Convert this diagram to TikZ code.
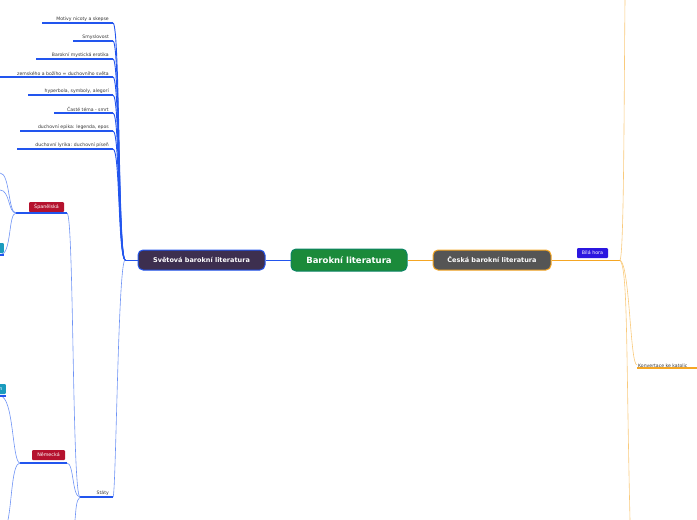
\documentclass[tikz,border=0pt]{standalone}
\usepackage{fontspec}
\setmainfont{DejaVu Sans}
\definecolor{rootgreen}{HTML}{1B8A3A}
\definecolor{worldfill}{HTML}{3D2F4F}
\definecolor{worldline}{HTML}{2255EE}
\definecolor{czfill}{HTML}{555555}
\definecolor{czline}{HTML}{F5A623}
\definecolor{stateline}{HTML}{6E93F5}
\definecolor{statered}{HTML}{B5122E}
\definecolor{tealbox}{HTML}{1A9BBE}
\definecolor{hillblue}{HTML}{2B17E0}
\tikzset{
    x={1pt},
    y={-1pt},
    topic/.style={
        draw={#1}, rounded corners={5pt},
        line width={1pt},
        text=white, font={\bfseries\fontsize{6.5}{7}\selectfont},
        minimum height={20}, inner xsep=6pt,
    },
    leaf/.style={
        font={\fontsize{4.6}{5}\selectfont}, text=black!80,
        anchor=south east, inner sep=1pt,
    },
    tag/.style={
        fill={#1}, rounded corners={1pt},
        text=white, font={\fontsize{4.8}{5}\selectfont},
        minimum height={10}, inner xsep=3pt, inner ysep=0pt,
    },
    underline/.style={draw={#1}, line width={1.2pt}},
    twig/.style={draw={#1}, line width={0.6pt}},
}
\begin{document}
\begin{tikzpicture}
\useasboundingbox (0,0) rectangle (697,520);
% main topics
\node[topic={teal!60!rootgreen}, fill=rootgreen, minimum width={116}, minimum height={22},
    font={\bfseries\fontsize{8.5}{9}\selectfont}] (root) at (349,260) {Barokní literatura};
\node[topic=worldline, fill=worldfill, minimum width={127}] (world) at (201.5,260) {Světová barokní literatura};
\node[topic=czline, fill=czfill, minimum width={118}] (cz) at (492,260) {Česká barokní literatura};
\path[twig=worldline, line width={1pt}] (root) -- (world);
\path[twig=czline, line width={1pt}] (root) -- (cz);
% czech side
\node[tag=hillblue, minimum width={31}] (hill) at (592.5,253) {Bílá hora};
\coordinate (hillend) at (620,260);
\path[twig=czline, line width={1pt}] (cz.east) -- (hillend);
\path[twig=czline!60] (hillend) .. controls (624,255) and (624,100) .. (625,0);
\path[twig=czline!60] (hillend) .. controls (628,270) and (626,350) .. (630,520);
\path[twig=czline!60] (hillend) .. controls (630,265) and (630,365) .. (637,365);
\node[leaf, anchor=south west] (konv) at (637,369) {Konvertace ke katolic};
\path[underline=czline] (637,368) -- (697,368);
% world side: themes
\coordinate (fork) at (125,260);
\path[twig=worldline, line width={1pt}] (world.west) -- (fork);
\foreach \name/\txt/\yy/\xs in {
    mot/{Motivy nicoty a skepse}/23/42,
    smy/{Smyslovost}/41/73,
    ero/{Barokní mystická erotika}/59/36,
    svet/{zemského a božího = duchovního světa}/77/-2,
    hyp/{hyperbola, symboly, alegorí}/95/28,
    smrt/{Časté téma - smrt}/113/54,
    epi/{duchovní epika: legenda, epos}/131/20,
    lyr/{duchovní lyrika: duchovní píseň}/149/17}{
    \node[leaf] (\name) at (110,\yy-0.5) {\txt};
    \path[underline=worldline] (\xs,\yy) -- (113,\yy);
    \path[twig=worldline, line width={0.9pt}] (113,\yy) .. controls (120,\yy) and (118,255) .. (fork);
}
% world side: states
\coordinate (states) at (113,497);
\node[leaf] (statetxt) at (110,496.5) {Státy};
\path[twig=stateline] (fork) .. controls (118,262) and (116,497) .. (states);
\path[underline=worldline] (80,497) -- (113,497);
\path[twig=stateline] (80,497) .. controls (72,497) and (74,213) .. (67,213);
\path[twig=stateline] (80,497) .. controls (72,497) and (74,463) .. (67,463);
\path[twig=stateline] (80,497) .. controls (76,500) and (76,510) .. (75,520);
% spain
\node[tag=statered, minimum width={35}] (spain) at (46.5,207) {Španělská};
\path[underline=worldline] (16,213) -- (67,213);
\path[twig=stateline] (16,213) .. controls (8,213) and (10,173) .. (0,173);
\path[twig=stateline] (16,213) .. controls (8,213) and (10,190) .. (0,190);
\path[twig=stateline] (16,213) .. controls (8,213) and (12,255) .. (0,255);
\node[tag=tealbox, minimum width={8}, anchor=east] (spsub) at (4,248) {};
\path[underline=worldline] (0,255) -- (4,255);
% germany
\node[tag=statered, minimum width={33}] (germ) at (48.5,455) {Německá};
\path[underline=worldline] (20,463) -- (67,463);
\path[twig=stateline] (20,463) .. controls (12,463) and (14,396) .. (0,396);
\path[twig=stateline] (20,463) .. controls (12,463) and (12,500) .. (8,520);
\node[tag=tealbox, minimum width={10}, anchor=east, font={\fontsize{4.8}{5}\selectfont}] (gesub) at (6,389) {n};
\path[underline=worldline] (0,396) -- (6,396);
\end{tikzpicture}
\end{document}
